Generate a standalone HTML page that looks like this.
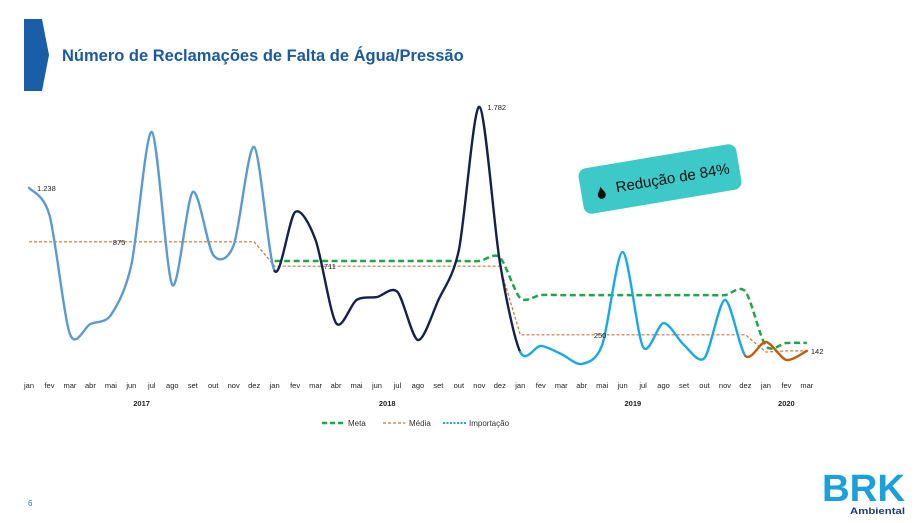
<!DOCTYPE html>
<html><head><meta charset="utf-8">
<style>
body{margin:0;background:#fff;}
svg{display:block;font-family:"Liberation Sans",sans-serif;}
</style></head>
<body>
<svg id="chart" width="917" height="523" viewBox="0 0 917 523">
  <polygon points="24,19 42,19 49,55 42,91 24,91" fill="#1a5ea8"/>
  <text x="62" y="61" font-size="16.5" font-weight="bold" fill="#1a5aa0">Número de Reclamações de Falta de Água/Pressão</text>
  <g id="plot"></g>
  <g id="xaxis"></g>
  <g transform="translate(660,179) rotate(-9.5)">
    <rect x="-80" y="-23" width="160" height="46" rx="8" fill="#3ec9c9"/>
    <path d="M-60,-2 C-58,2 -56,4 -56,6 A4,4 0 0 1 -64,6 C-64,4 -62,2 -60,-2Z" fill="#111"/>
    <text x="-45" y="6" font-size="15" fill="#111">Redução de 84%</text>
  </g>
  <g>
    <g>
      <line x1="322" y1="423" x2="345" y2="423" stroke="#1fa54a" stroke-width="2.5" stroke-dasharray="5,3"/>
      <text x="348" y="426" font-size="8" fill="#333">Meta</text>
    </g>
    <g>
      <line x1="383" y1="423" x2="405" y2="423" stroke="#d2733a" stroke-width="1.2" stroke-dasharray="3,2"/>
      <text x="409" y="426" font-size="8" fill="#333">Média</text>
    </g>
    <g>
      <line x1="443" y1="423" x2="466" y2="423" stroke="#1ba9e6" stroke-width="2" stroke-dasharray="2,1.5"/>
      <text x="469" y="426" font-size="8" fill="#333">Importação</text>
    </g>
  </g>
  <text x="28" y="506" font-size="8" fill="#1a7ad0">6</text>
  <g>
    <text x="822" y="501" font-size="38" font-weight="bold" fill="#1ba0dc" textLength="83" lengthAdjust="spacingAndGlyphs">BRK</text>
    <text x="850" y="514" font-size="9.5" font-weight="bold" fill="#1a3d7c" textLength="55" lengthAdjust="spacingAndGlyphs">Ambiental</text>
  </g>
</svg>
<script>
const months = ["jan","fev","mar","abr","mai","jun","jul","ago","set","out","nov","dez","jan","fev","mar","abr","mai","jun","jul","ago","set","out","nov","dez","jan","fev","mar","abr","mai","jun","jul","ago","set","out","nov","dez","jan","fev","mar"];
const years = ["2017","2018","2019","2020"];
const yearStart = [0,12,24,36];
const yearEnd = [11,23,35,38];
const complaints = [1238,1055,255,323,383,719,1613,585,1210,786,853,1512,
  679,1075,887,329,484,504,538,215,484,820,1782,740,
  134,175,121,54,181,806,168,329,181,94,484,108,
  202,81,142];
const metaStart = 12;
const meta = [746,746,746,746,746,746,746,746,746,746,746,770,
  497,517,517,517,517,517,517,517,517,517,517,540,
  175,195,195];
const mediaVals = [875,875,875,875,875,875,875,875,875,875,875,875,
  711,711,711,711,711,711,711,711,711,711,711,711,
  250,250,250,250,250,250,250,250,250,250,250,250,
  134,142,142];
const labels = [[0,"1.238"],[22,"1.782"],[38,"142"]];
const mediaLabels = [[4.4,"875"],[14.7,"711"],[27.9,"250"]];

const X0=29, DX=20.47, Y0=372, KY=0.1488;
const xs = i => X0 + i*DX;
const ys = v => Y0 - v*KY;
const NS="http://www.w3.org/2000/svg";
const plot=document.getElementById('plot');
const xaxis=document.getElementById('xaxis');
const T=7;

function smooth(pts){
  let d="M"+pts[0][0]+","+pts[0][1];
  for(let i=0;i<pts.length-1;i++){
    const p0=pts[i-1]||pts[i],p1=pts[i],p2=pts[i+1],p3=pts[i+2]||pts[i+1];
    d+=` C${p1[0]+(p2[0]-p0[0])/T},${p1[1]+(p2[1]-p0[1])/T} ${p2[0]-(p3[0]-p1[0])/T},${p2[1]-(p3[1]-p1[1])/T} ${p2[0]},${p2[1]}`;
  }
  return d;
}
function path(d,stroke,w,dash,name){
  const p=document.createElementNS(NS,'path');
  p.setAttribute('d',d);p.setAttribute('fill','none');
  p.setAttribute('stroke',stroke);p.setAttribute('stroke-width',w);
  p.setAttribute('stroke-linecap','round');
  if(dash){p.setAttribute('stroke-dasharray',dash);p.setAttribute('stroke-linecap','butt');}
  
  
  plot.appendChild(p);
}
function text(g,x,y,s,t,anchor,bold){
  const e=document.createElementNS(NS,'text');
  e.setAttribute('x',x);e.setAttribute('y',y);e.setAttribute('font-size',s);
  e.setAttribute('fill','#222');
  if(anchor)e.setAttribute('text-anchor',anchor);
  if(bold)e.setAttribute('font-weight','bold');
  e.textContent=t;
  
  
  g.appendChild(e);return e;
}
let md="";
mediaVals.forEach((v,i)=>{md+=(i?"L":"M")+xs(i)+","+ys(v);});
path(md,"#d2733a",1.2,"3,2","media-line");
path(smooth(meta.map((v,i)=>[xs(i+metaStart),ys(v)])),"#1fa54a",2.5,"6,3.5","meta-line");
const segColors=["#5b9bd5","#14214f","#1ba9e6","#c55a11"];
const segRanges=[[0,12],[12,24],[24,35],[35,38]];
const allPts=complaints.map((v,i)=>[xs(i),ys(v)]);
segRanges.forEach((r,k)=>{
  let d="";
  for(let i=r[0];i<r[1]&&i<allPts.length-1;i++){
    const p0=allPts[i-1]||allPts[i],p1=allPts[i],p2=allPts[i+1],p3=allPts[i+2]||allPts[i+1];
    if(i===r[0])d+="M"+p1[0]+","+p1[1];
    d+=` C${p1[0]+(p2[0]-p0[0])/T},${p1[1]+(p2[1]-p0[1])/T} ${p2[0]-(p3[0]-p1[0])/T},${p2[1]-(p3[1]-p1[1])/T} ${p2[0]},${p2[1]}`;
  }
  path(d,segColors[k],2.4,null,"complaints-line-"+years[k]);
});
labels.forEach(l=>text(plot,xs(l[0])+(l[0]===38?4:8),ys(complaints[l[0]])+3,7.5,l[1]));
mediaLabels.forEach(l=>{
  const i=Math.floor(l[0]);
  text(plot,xs(l[0]),ys(mediaVals[i])+3,7.5,l[1],"middle");
});
months.forEach((m,i)=>text(xaxis,xs(i),388,7.5,m,"middle"));
years.forEach((y,k)=>text(xaxis,(xs(yearStart[k])+xs(yearEnd[k]))/2,406,7.5,y,"middle",true));
</script>
</body></html>
